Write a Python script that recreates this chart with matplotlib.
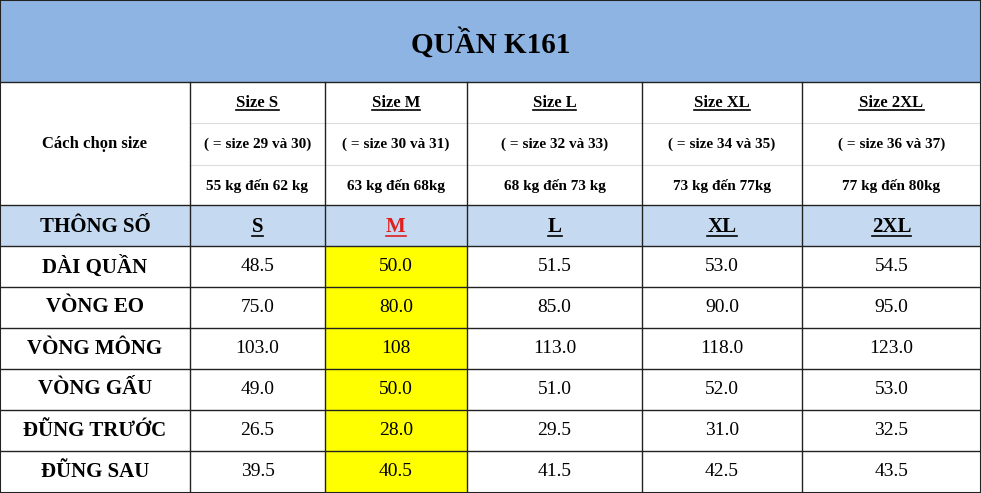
import matplotlib
matplotlib.use("Agg")
import matplotlib.pyplot as plt
from matplotlib.patches import Rectangle

title = "QUẦN K161"
sizes = ["Size S", "Size M", "Size L", "Size XL", "Size 2XL"]
equivalents = ["( = size 29 và 30)", "( = size 30 và 31)", "( = size 32 và 33)",
               "( = size 34 và 35)", "( = size 36 và 37)"]
weights = ["55 kg đến 62 kg", "63 kg đến 68kg", "68 kg đến 73 kg",
           "73 kg đến 77kg", "77 kg đến 80kg"]
short_sizes = ["S", "M", "L", "XL", "2XL"]
measures = ["DÀI QUẦN", "VÒNG EO", "VÒNG MÔNG", "VÒNG GẤU", "ĐŨNG TRƯỚC", "ĐŨNG SAU"]
values = [
    ["48.5", "50.0", "51.5", "53.0", "54.5"],
    ["75.0", "80.0", "85.0", "90.0", "95.0"],
    ["103.0", "108", "113.0", "118.0", "123.0"],
    ["49.0", "50.0", "51.0", "52.0", "53.0"],
    ["26.5", "28.0", "29.5", "31.0", "32.5"],
    ["39.5", "40.5", "41.5", "42.5", "43.5"],
]

W, H = 981, 493
col_x = [0, 190, 325, 467, 642, 802, 981]
head_y = [82, 123, 165, 205]
row_y = [205, 246, 287, 328, 369, 410, 451, 493]
FONT = "Liberation Serif"

fig = plt.figure(figsize=(W / 100, H / 100), dpi=100)
ax = fig.add_axes([0, 0, 1, 1])
ax.set_xlim(0, W)
ax.set_ylim(H, 0)
ax.axis("off")
renderer = fig.canvas.get_renderer()


def rect(x0, y0, x1, y1, color):
    ax.add_patch(Rectangle((x0, y0), x1 - x0, y1 - y0, facecolor=color, edgecolor="none"))


def txt(x, y, s, size, color="black", underline=False):
    t = ax.text(x, y, s, ha="center", va="center", fontsize=size, fontweight="bold",
                family=FONT, color=color)
    if underline:
        bb = t.get_window_extent(renderer).transformed(ax.transData.inverted())
        yl = max(bb.y0, bb.y1) - 1
        ax.plot([bb.x0, bb.x1], [yl, yl], color=color, lw=1.2)


# backgrounds
rect(0, 0, W, 82, "#8DB4E2")
rect(0, 82, W, 205, "white")
rect(0, 205, W, 246, "#C5D9F1")
rect(0, 246, W, H, "white")
rect(col_x[2], 246, col_x[3], H, "#FFFF00")

# grid lines
lc = "#222222"
ax.plot([0, W], [82, 82], color=lc, lw=1)
for y in [205, 246] + row_y[2:-1]:
    ax.plot([0, W], [y, y], color=lc, lw=1)
for y in head_y[1:3]:
    ax.plot([col_x[1], W], [y, y], color="#DDDDDD", lw=0.8)
for x in col_x[1:-1]:
    ax.plot([x, x], [82, H], color=lc, lw=1)
ax.plot([0, W, W, 0, 0], [0, 0, H, H, 0], color=lc, lw=1.5)

txt(W / 2, 43, title, 21)
txt(95, 144, "Cách chọn size", 12)
for i in range(5):
    cx = (col_x[i + 1] + col_x[i + 2]) / 2
    txt(cx, 103, sizes[i], 12, underline=True)
    txt(cx, 144, equivalents[i], 11)
    txt(cx, 186, weights[i], 11)
    txt(cx, 227, short_sizes[i], 15, color="#E02020" if i == 1 else "black", underline=True)
txt(95, 227, "THÔNG SỐ", 15)
for r, name in enumerate(measures):
    cy = (row_y[r + 1] + row_y[r + 2]) / 2
    txt(95, cy, name, 15)
    for i in range(5):
        cx = (col_x[i + 1] + col_x[i + 2]) / 2
        ax.text(cx, cy, values[r][i], ha="center", va="center", fontsize=14, family=FONT)

fig.savefig("out.png", dpi=100)
